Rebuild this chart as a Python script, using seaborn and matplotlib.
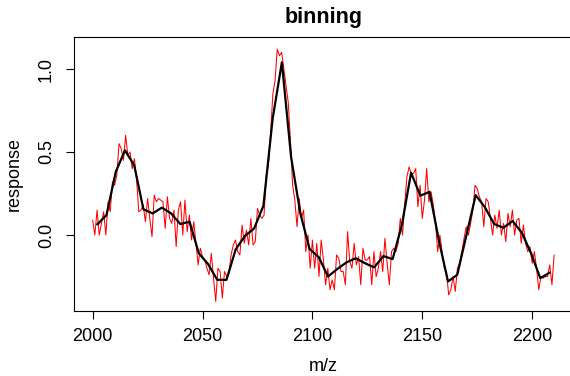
import numpy as np
import pandas as pd
import matplotlib
matplotlib.use("Agg")
import matplotlib.pyplot as plt
import seaborn as sns

# ---- data ----
mz_start = 2000
raw_response = [
    0.09, 0.0, 0.15, 0.0, 0.07,
    0.14, 0.0, 0.2, 0.14,
    0.32, 0.3, 0.36, 0.55,
    0.52, 0.45, 0.6, 0.48,
    0.5, 0.4, 0.46, 0.33,
    0.14, 0.15, 0.18, 0.08, 0.22,
    0.1, -0.01, 0.24, 0.2,
    0.22, 0.21, 0.2, 0.04,
    0.23, 0.1, 0.07, 0.15,
    -0.07, 0.15, 0.2, 0.0,
    0.21, 0.02, 0.12, -0.03, 0.08,
    -0.05, -0.18, -0.08, -0.13,
    -0.15, -0.2, -0.24, -0.11,
    -0.26, -0.4, -0.2, -0.22,
    -0.38, -0.22, -0.25, -0.23,
    -0.12, -0.06, -0.03, -0.1, -0.12,
    0.06, -0.05, 0.03, -0.06,
    0.1, -0.06, -0.04, 0.16,
    0.12, 0.1, 0.12, 0.36,
    0.42, 0.62, 0.85, 0.93,
    1.12, 1.08, 1.1, 1.0, 0.9,
    0.8, 0.57, 0.3, 0.21,
    0.05, 0.22, 0.1, 0.15,
    -0.1, 0.0, -0.2, -0.03,
    -0.2, -0.05, -0.25, -0.03,
    -0.15, -0.3, -0.2, -0.33, -0.27,
    -0.33, -0.12, -0.14, -0.22,
    -0.22, -0.3, 0.02, -0.16,
    -0.2, -0.05, -0.18, -0.13,
    -0.3, -0.08, -0.15, -0.15,
    -0.13, -0.3, -0.1, -0.25, -0.2,
    -0.1, -0.22, -0.02, -0.17,
    -0.3, -0.1, -0.08, -0.1,
    -0.05, 0.1, 0.0, 0.19,
    0.35, 0.41, 0.37, 0.37,
    0.4, 0.17, 0.3, 0.1, 0.21,
    0.4, 0.2, 0.26, 0.18,
    0.08, -0.1, 0.0, -0.1,
    -0.2, -0.22, -0.36, -0.33,
    -0.25, -0.34, -0.2, -0.17,
    -0.1, -0.02, 0.05, 0.0, 0.07,
    0.15, 0.3, 0.28, 0.23,
    0.2, 0.05, 0.22, 0.2,
    0.1, 0.0, 0.12, 0.04,
    0.15, 0.0, 0.07, -0.04,
    0.13, 0.05, 0.15, 0.0, 0.09,
    0.1, -0.05, 0.06, -0.05,
    -0.1, -0.07, -0.17, -0.1,
    -0.2, -0.33, -0.25, -0.26,
    -0.25, -0.25, -0.18, -0.3, -0.12,
]
raw_mz = [mz_start + i for i in range(len(raw_response))]

bin_mz = [
    2002.1, 2006.3, 2010.5, 2014.7, 2018.9, 2023.1, 2027.3, 2031.5, 2035.7, 2039.9,
    2044.1, 2048.3, 2052.5, 2056.7, 2060.9, 2065.1, 2069.3, 2073.5, 2077.7, 2081.9,
    2086.1, 2090.3, 2094.5, 2098.7, 2102.9, 2107.1, 2111.3, 2115.5, 2119.7, 2123.9,
    2128.1, 2132.3, 2136.5, 2140.7, 2144.9, 2149.1, 2153.3, 2157.5, 2161.7, 2165.9,
    2170.1, 2174.3, 2178.5, 2182.7, 2186.9, 2191.1, 2195.3, 2199.5, 2203.7, 2207.9,
]
bin_response = [
    0.064, 0.12, 0.38, 0.51, 0.42, 0.155, 0.13, 0.165, 0.13, 0.066,
    0.08, -0.11, -0.175, -0.27, -0.27, -0.086, -0.006, 0.04, 0.176, 0.70,
    1.04, 0.47, 0.13, -0.084, -0.134, -0.25, -0.205, -0.165, -0.14, -0.17,
    -0.195, -0.127, -0.145, 0.06, 0.375, 0.237, 0.26, -0.03, -0.28, -0.24,
    0.0, 0.24, 0.167, 0.066, 0.044, 0.084, 0.014, -0.11, -0.26, -0.227,
]
x_ticks = [2000, 2050, 2100, 2150, 2200]
y_ticks = [0.0, 0.5, 1.0]
y_tick_labels = ["0.0", "0.5", "1.0"]

raw_df = pd.DataFrame({"mz": raw_mz, "response": raw_response})
bin_df = pd.DataFrame({"mz": bin_mz, "response": bin_response})

# ---- styling ----
sns.set_theme(style="ticks")
plt.rcParams["font.family"] = ["Liberation Sans", "DejaVu Sans"]

W, H = 570, 376
fig = plt.figure(figsize=(W / 100, H / 100), dpi=100)
left, right, top, bottom = 74.2, 572.6, 37.0, 310.7
ax = fig.add_axes([left / W, 1 - bottom / H, (right - left) / W, (bottom - top) / H])

sns.lineplot(data=raw_df, x="mz", y="response", color="#ff0000", lw=0.75, ax=ax)
sns.lineplot(data=bin_df, x="mz", y="response", color="black", lw=1.6, ax=ax)

ax.set_xlim(1991.6, 2218.4)
y0_px, y1_px = 235.0, 69.0
ppu = y0_px - y1_px
ax.set_ylim((y0_px - bottom) / ppu, (y0_px - top) / ppu)

ax.set_xticks(x_ticks)
ax.set_xticklabels([str(t) for t in x_ticks])
ax.set_yticks(y_ticks)
ax.set_yticklabels(y_tick_labels, rotation=90, va="center")

fs = 13
ax.tick_params(axis="both", direction="out", length=5.8, width=0.8, color="black",
               labelsize=fs, labelcolor="black")
ax.tick_params(axis="x", pad=7)
ax.tick_params(axis="y", pad=8)
for s in ax.spines.values():
    s.set_color("black")
    s.set_linewidth(0.8)

ax.set_xlabel("m/z", fontsize=fs, color="black", labelpad=9)
ax.set_ylabel("response", fontsize=fs, color="black", labelpad=11)
ax.set_title("binning", fontsize=15.5, fontweight="bold", color="black", pad=10)

fig.savefig("out.png", dpi=100)
